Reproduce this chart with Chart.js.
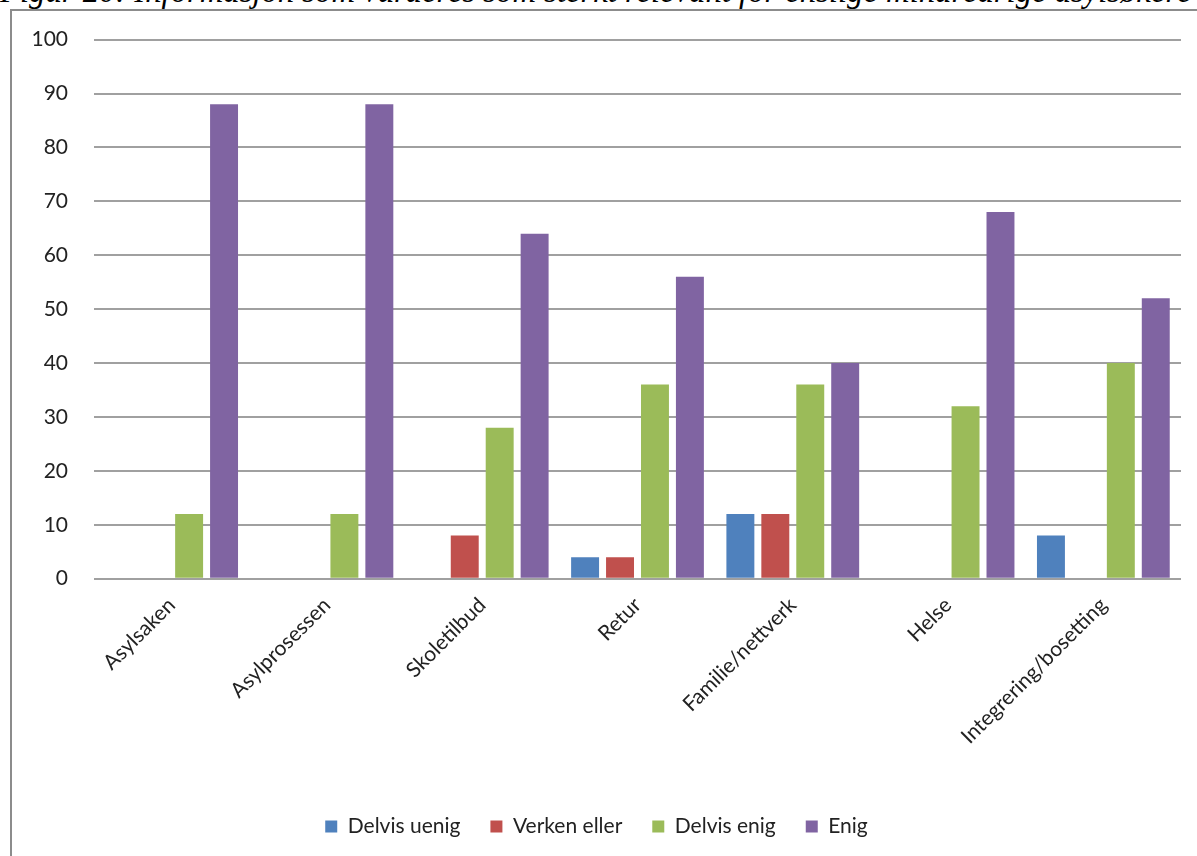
<!DOCTYPE html>
<html>
<head>
<meta charset="utf-8">
<script src="https://cdn.jsdelivr.net/npm/chart.js@4"></script>
<style>
  html, body { margin: 0; padding: 0; background: #fff; overflow: hidden; }
  body { width: 1197px; height: 856px; position: relative; }
  #title {
    position: absolute; left: 0px; top: -27px; white-space: nowrap;
    font-family: "Liberation Serif", "Times New Roman", serif;
    font-style: italic; font-weight: normal; font-size: 32.7px; line-height: 36px; color: #000;
  }
  #box {
    position: absolute; left: 10px; top: 9px; width: 1200px; height: 900px;
    border: 2px solid #8c8c8c; box-sizing: border-box;
  }
  #myChart { position: relative; top: -10px; }
</style>
</head>
<body>
<div id="title">Figur 20: Informasjon som vurderes som sterkt relevant for enslige mindreårige asylsøkere</div>
<div id="box"><canvas id="myChart"></canvas></div>
<script>
const categories = ["Asylsaken", "Asylprosessen", "Skoletilbud", "Retur", "Familie/nettverk", "Helse", "Integrering/bosetting"];
const delvisUenig = [0, 0, 0, 4, 12, 0, 8];
const verkenEller = [0, 0, 8, 4, 12, 0, 0];
const delvisEnig = [12, 12, 28, 36, 36, 32, 40];
const enig = [88, 88, 64, 56, 40, 68, 52];
const yTicks = [0, 10, 20, 30, 40, 50, 60, 70, 80, 90, 100];

const ctx = document.getElementById("myChart");
ctx.width = 1196;
ctx.height = 896;
ctx.style.width = "1196px";
ctx.style.height = "896px";

const ds = (label, data, color) => ({
  label: label,
  data: data,
  backgroundColor: color,
  borderWidth: 0,
  barPercentage: 0.8,
  categoryPercentage: 0.9,
});

const myChart = new Chart(ctx, {
  type: "bar",
  data: {
    labels: categories,
    datasets: [
      ds("Delvis uenig", delvisUenig, "#4f81bd"),
      ds("Verken eller", verkenEller, "#c0504d"),
      ds("Delvis enig", delvisEnig, "#9bbb59"),
      ds("Enig", enig, "#8064a2"),
    ],
  },
  options: {
    responsive: false,
    animation: false,
    layout: { padding: { top: 0, right: 27, bottom: 50, left: 0 } },
    plugins: {
      tooltip: { enabled: false },
      legend: {
        position: "bottom",
        labels: {
          font: { family: "Lato", size: 21 },
          color: "#222",
          boxWidth: 12,
          boxHeight: 12,
          padding: 30,
        },
      },
    },
    scales: {
      x: {
        grid: { display: false },
        border: { display: false },
        afterFit: (s) => { s.height = s.height + 31; },
        ticks: {
          minRotation: 45,
          maxRotation: 45,
          padding: 6,
          font: { family: "Lato", size: 21 },
          color: "#222",
        },
      },
      y: {
        min: 0,
        max: 100,
        afterFit: (s) => { s.width = 82; },
        afterBuildTicks: (s) => { s.ticks = yTicks.map((v) => ({ value: v })); },
        grid: { color: "#a0a0a0", lineWidth: 2, drawTicks: false },
        border: { display: false },
        ticks: {
          padding: 26,
          font: { family: "Lato", size: 21 },
          color: "#222",
        },
      },
    },
  },
});
</script>
</body>
</html>
